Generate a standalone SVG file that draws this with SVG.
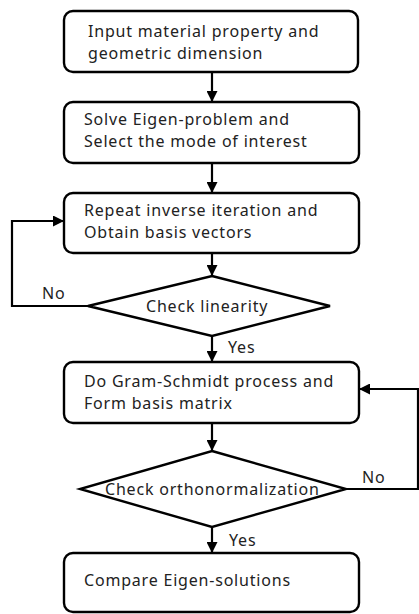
<svg xmlns="http://www.w3.org/2000/svg" width="419" height="614" viewBox="0 0 419 614">
<defs>
<marker id="ah" viewBox="0 0 10 10" refX="10" refY="5" markerWidth="5" markerHeight="5" orient="auto" markerUnits="strokeWidth">
<path d="M0,0 L10,5 L0,10 z" fill="#000"/>
</marker>
<style>
.box{fill:#fff;stroke:#000;stroke-width:2.4}
.t{font-family:"Noto Sans","Noto Sans CJK KR",sans-serif;font-size:16px;letter-spacing:0.8px;fill:#222}
.c{fill:none;stroke:#000;stroke-width:2.2}
</style>
</defs>
<rect width="419" height="614" fill="#fff"/>
<g id="connectors">
<line class="c" x1="212" y1="72" x2="212" y2="102" marker-end="url(#ah)"/>
<line class="c" x1="212" y1="163" x2="212" y2="193" marker-end="url(#ah)"/>
<line class="c" x1="212" y1="253" x2="212" y2="276" marker-end="url(#ah)"/>
<polyline class="c" points="88,306 12,306 12,221 64,221" marker-end="url(#ah)"/>
<line class="c" x1="212" y1="336" x2="212" y2="362" marker-end="url(#ah)"/>
<line class="c" x1="212" y1="423" x2="212" y2="451" marker-end="url(#ah)"/>
<polyline class="c" points="346,489 418,489 418,389 359,389" marker-end="url(#ah)"/>
<line class="c" x1="212" y1="527" x2="212" y2="553" marker-end="url(#ah)"/>
<text class="t" x="42" y="299">No</text>
<text class="t" x="228" y="353">Yes</text>
<text class="t" x="362" y="483">No</text>
<text class="t" x="229" y="546">Yes</text>
</g>
<g id="n1">
<rect class="box" x="64" y="11" width="294" height="61" rx="9"/>
<text class="t" x="88" y="37">Input material property and</text>
<text class="t" x="88" y="59">geometric dimension</text>
</g>
<g id="n2">
<rect class="box" x="64" y="102" width="295" height="61" rx="9"/>
<text class="t" x="84" y="125">Solve Eigen-problem and</text>
<text class="t" x="84" y="147">Select the mode of interest</text>
</g>
<g id="n3">
<rect class="box" x="64" y="193" width="295" height="60" rx="9"/>
<text class="t" x="84" y="216">Repeat inverse iteration and</text>
<text class="t" x="84" y="238">Obtain basis vectors</text>
</g>
<g id="d1">
<polygon class="box" points="212,276 330,306 212,336 88,306"/>
<text class="t" x="146" y="312">Check linearity</text>
</g>
<g id="n4">
<rect class="box" x="64" y="362" width="295" height="61" rx="9"/>
<text class="t" x="84" y="387">Do Gram-Schmidt process and</text>
<text class="t" x="84" y="409">Form basis matrix</text>
</g>
<g id="d2">
<polygon class="box" points="212,451 346,489 212,527 80,489"/>
<text class="t" x="105" y="495">Check orthonormalization</text>
</g>
<g id="n5">
<rect class="box" x="64" y="553" width="295" height="59" rx="9"/>
<text class="t" x="84" y="586">Compare Eigen-solutions</text>
</g>
</svg>
